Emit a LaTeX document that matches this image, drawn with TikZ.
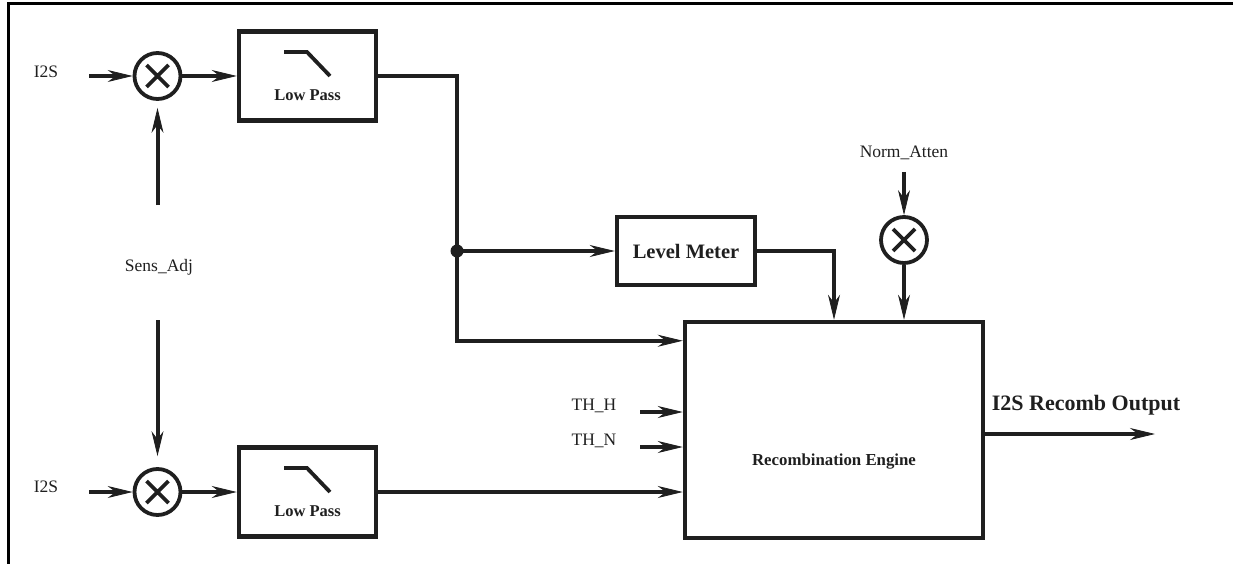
\documentclass[tikz,border=0pt]{standalone}
\usepackage{fontspec}
\setmainfont{Liberation Serif}
\usetikzlibrary{positioning,arrows.meta,calc}

\begin{document}
\begin{tikzpicture}[x=1pt, y=-1pt, color=black!88,
    txt/.style={font=\fontsize{17.5}{21}\selectfont},
    lpbox/.style={draw, line width=4.5pt, minimum width=137pt, minimum height=89pt, inner sep=0pt},
    mult/.style={circle, draw, line width=3.8pt, minimum size=46pt, inner sep=0pt,
      path picture={\draw[line width=3.8pt]
        ($(path picture bounding box.center)+(-11pt,-11pt)$) -- ($(path picture bounding box.center)+(11pt,11pt)$)
        ($(path picture bounding box.center)+(-11pt,11pt)$) -- ($(path picture bounding box.center)+(11pt,-11pt)$);}},
    sig/.style={-{Stealth[length=25pt, width=12pt, inset=8pt, line width=0.8pt]}, line width=4pt}]

  \useasboundingbox (0,0) rectangle (1233,564);

  % Frame
  \draw[line width=3pt, black] (8,564) -- (8,4) -- (1233,4);

  % Upper channel
  \node[txt] (i2sa) at (46,72) {I2S};
  \coordinate (ina) at (89,76);
  \node[mult] (m1) at (157.5,76) {};
  \node[lpbox] (lp1) at (307.5,76) {};
  \draw[line width=3.8pt] ($(lp1.center)+(-23.5,-24)$) -- ++(23,0) -- ++(23,24);
  \node[txt, font=\fontsize{16.5}{20}\selectfont\bfseries] (lp1txt) at ($(lp1.center)+(0,19.5)$) {Low Pass};
  \draw[sig] (ina) -- (m1);
  \draw[sig] (m1) -- (lp1);

  % Sensitivity
  \node[txt] (sens) at (159,267) {Sens\_Adj};
  \coordinate (sa) at (157.5,205);
  \coordinate (sb) at (157.5,320);

  % Lower channel
  \node[txt] (i2sb) at (46,487) {I2S};
  \coordinate (inb) at (89,492);
  \node[mult] (m2) at (157.5,492) {};
  \node[lpbox] (lp2) at (307.5,492) {};
  \draw[line width=3.8pt] ($(lp2.center)+(-23.5,-24)$) -- ++(23,0) -- ++(23,24);
  \node[txt, font=\fontsize{16.5}{20}\selectfont\bfseries] (lp2txt) at ($(lp2.center)+(0,19.5)$) {Low Pass};
  \draw[sig] (inb) -- (m2);
  \draw[sig] (m2) -- (lp2);
  \draw[sig, shorten >=7pt] (sa) -- (m1);
  \draw[sig, shorten >=11pt] (sb) -- (m2);

  % Engine and meter
  \node[draw, line width=4.5pt, minimum width=298pt, minimum height=216pt] (eng) at (834,430) {};
  \node[font=\fontsize{16.8}{20}\selectfont\bfseries] (engtxt) at ($(eng.center)+(0,32)$) {Recombination Engine};
  \node[draw, line width=4.5pt, minimum width=138pt, minimum height=68pt, font=\fontsize{20.5}{24}\selectfont\bfseries] (lm) at (686,251) {Level Meter};
  \coordinate (jn) at (457,251);

  \draw[sig] (lp1.east) -| (jn) |- ($(eng.north west)+(0,21)$);
  \draw[sig] (jn) -- (lm);
  \fill (jn) circle (6.5pt);
  \draw[sig] (lm.east) -| (eng.north);
  \draw[sig] (lp2.east) -- (lp2.east -| eng.west);

  % Attenuation
  \node[txt] (norm) at (904,153) {Norm\_Atten};
  \coordinate (na) at (904,172);
  \node[mult] (m3) at (904,240) {};
  \draw[sig] (na) -- (m3);
  \draw[sig] (m3) -- (m3 |- eng.north);

  % Thresholds
  \node[txt] (thh) at (594,406) {TH\_H};
  \node[txt] (thn) at (594,441) {TH\_N};
  \coordinate (tha) at (640,412);
  \coordinate (thb) at (640,447);
  \draw[sig] (tha) -- (tha -| eng.west);
  \draw[sig] (thb) -- (thb -| eng.west);

  % Output
  \node[font=\fontsize{22}{26}\selectfont\bfseries] (outtxt) at (1086,405) {I2S Recomb Output};
  \coordinate (out) at (1155,434);
  \draw[sig] (out -| eng.east) -- (out);

\end{tikzpicture}
\end{document}
